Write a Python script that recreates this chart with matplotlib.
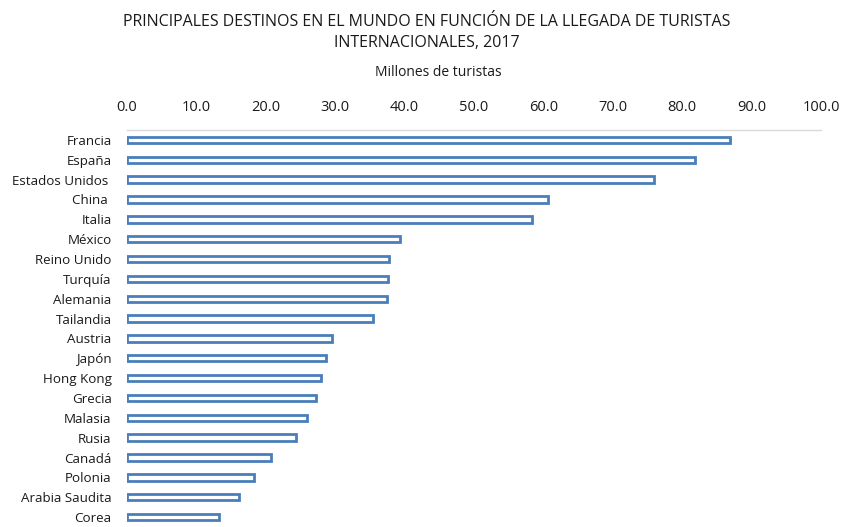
import matplotlib
matplotlib.use("Agg")
import matplotlib.pyplot as plt
import numpy as np

paises = ["Francia", "España", "Estados Unidos ", "China ", "Italia", "México",
          "Reino Unido", "Turquía", "Alemania", "Tailandia", "Austria", "Japón",
          "Hong Kong", "Grecia", "Malasia", "Rusia", "Canadá", "Polonia",
          "Arabia Saudita", "Corea"]
llegadas = [86.9, 81.8, 75.9, 60.7, 58.3, 39.3, 37.7, 37.6, 37.5, 35.4, 29.5,
            28.7, 27.9, 27.2, 25.9, 24.4, 20.8, 18.3, 16.1, 13.3]
ticks = [0, 10, 20, 30, 40, 50, 60, 70, 80, 90, 100]
tick_labels = [f"{t:.1f}" for t in ticks]

plt.rcParams['font.family'] = ['Open Sans', 'DejaVu Sans']

W, H = 842, 527
fig = plt.figure(figsize=(W / 100, H / 100), dpi=100)
left, right, top, bottom = 127, 821, 130, 527
ax = fig.add_axes([left / W, 1 - bottom / H, (right - left) / W, (bottom - top) / H])

y = np.arange(len(paises))
ax.barh(y, llegadas, height=0.32, facecolor="white", edgecolor="#4a7ebb",
        linewidth=2.0)
ax.set_ylim(len(paises) - 0.5, -0.5)
ax.set_xlim(0, 100)
ax.set_yticks(y)
ax.set_yticklabels(paises, fontsize=9.6, color="#1a1a1a")
ax.set_xticks(ticks)
ax.set_xticklabels(tick_labels, fontsize=10.5, color="#1a1a1a")
ax.xaxis.tick_top()
ax.tick_params(axis="x", length=0, pad=11)
ax.tick_params(axis="y", length=0, pad=11)
for s in ["bottom", "left", "right"]:
    ax.spines[s].set_visible(False)
ax.spines["top"].set_color("#d9d9d9")
ax.spines["top"].set_linewidth(1.0)

fig.text(427 / W, 1 - 22 / H, "PRINCIPALES DESTINOS EN EL MUNDO EN FUNCIÓN DE LA LLEGADA DE TURISTAS",
         ha="center", va="center", fontsize=11.5, color="#1a1a1a")
fig.text(427 / W, 1 - 43 / H, "INTERNACIONALES, 2017",
         ha="center", va="center", fontsize=11.5, color="#1a1a1a")
fig.text(438 / W, 1 - 73 / H, "Millones de turistas",
         ha="center", va="center", fontsize=10, color="#1a1a1a")

fig.savefig("out.png", dpi=100, facecolor="white")
